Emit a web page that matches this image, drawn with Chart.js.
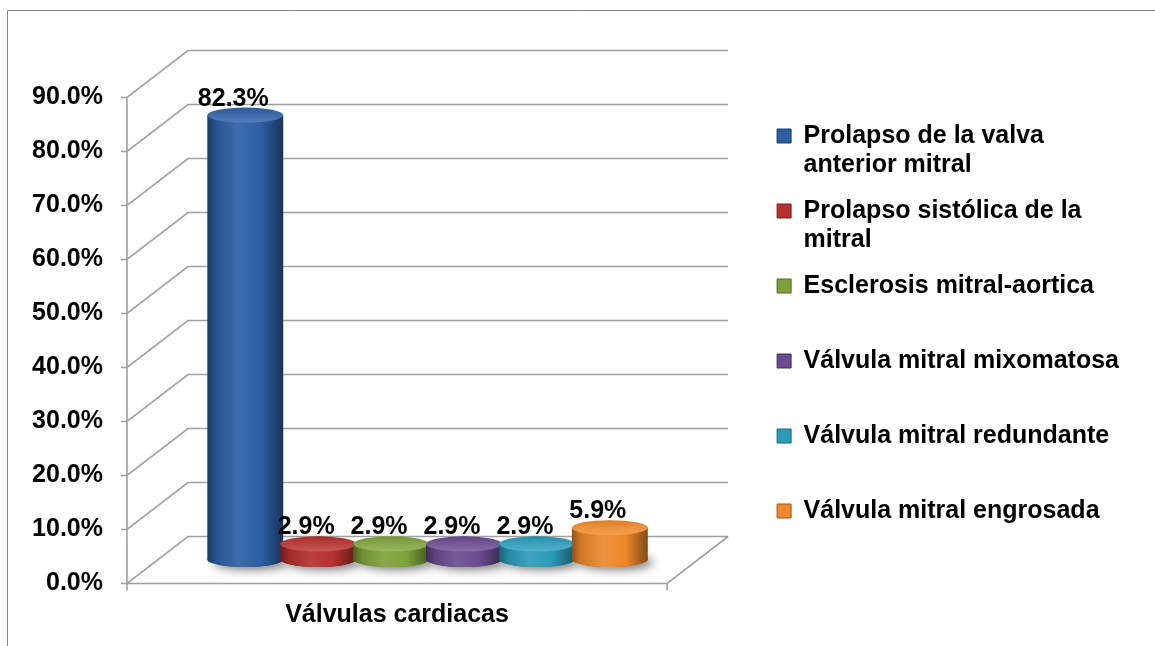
<!DOCTYPE html>
<html>
<head>
<meta charset="utf-8">
<script src="https://cdn.jsdelivr.net/npm/chart.js@4.4.1/dist/chart.umd.min.js"></script>
<style>
  html, body { margin: 0; padding: 0; background: #fff; }
  #wrap { width: 1155px; height: 646px; }
</style>
</head>
<body>
<div id="wrap"><canvas id="grafico" width="1155" height="646"></canvas></div>
<script>
// datos
const categorias = ["Válvulas cardiacas"];
const series = [
  "Prolapso de la valva anterior mitral",
  "Prolapso sistólica de la mitral",
  "Esclerosis mitral-aortica",
  "Válvula mitral mixomatosa",
  "Válvula mitral redundante",
  "Válvula mitral engrosada"
];
const valores = [82.3, 2.9, 2.9, 2.9, 2.9, 5.9];
const yMin = 0;
const yMax = 90;
const yPaso = 10;

const colores = ["#2d5fa5", "#b5312e", "#7ea23a", "#6a4b90", "#2c9bb9", "#ee892c"];

// profundidad del efecto 3D
const PROF_X = 61;
const PROF_Y = -47;
const FUENTE = "Arial, 'Liberation Sans', sans-serif";
const TAM = 25;

Chart.defaults.font.family = FUENTE;

function tono(hex, f) {
  let r = parseInt(hex.substr(1, 2), 16);
  let g = parseInt(hex.substr(3, 2), 16);
  let b = parseInt(hex.substr(5, 2), 16);
  if (f < 0) {
    r = r * (1 + f); g = g * (1 + f); b = b * (1 + f);
  } else {
    r = r + (255 - r) * f; g = g + (255 - g) * f; b = b + (255 - b) * f;
  }
  return "rgb(" + Math.round(r) + "," + Math.round(g) + "," + Math.round(b) + ")";
}

function partirTexto(ctx, texto, maxW) {
  let palabras = texto.split(" ");
  let lineas = [];
  let linea = "";
  palabras.forEach(p => {
    let prueba = linea ? linea + " " + p : p;
    if (linea && ctx.measureText(prueba).width > maxW) {
      lineas.push(linea);
      linea = p;
    } else {
      linea = prueba;
    }
  });
  lineas.push(linea);
  while (lineas.length < 2) lineas.push("");
  return lineas;
}

// paredes, cuadricula y cilindros
const cilindros3d = {
  id: "cilindros3d",
  beforeDraw(chart) {
    let ctx = chart.ctx;
    ctx.save();
    ctx.fillStyle = "#fff";
    ctx.fillRect(0, 0, chart.width, chart.height);
    ctx.strokeStyle = "#868686";
    ctx.lineWidth = 1;
    ctx.beginPath();
    ctx.moveTo(7.5, chart.height);
    ctx.lineTo(7.5, 10.5);
    ctx.lineTo(chart.width, 10.5);
    ctx.stroke();
    ctx.restore();
  },
  beforeDatasetsDraw(chart) {
    let ctx = chart.ctx;
    let area = chart.chartArea;
    let y = chart.scales.y;

    ctx.save();
    ctx.strokeStyle = "#a0a0a0";
    ctx.lineWidth = 1.6;

    // lineas de cuadricula en pared izquierda y fondo
    for (let v = yMin; v <= yMax; v += yPaso) {
      let py = Math.round(y.getPixelForValue(v)) + 0.5;
      ctx.beginPath();
      ctx.moveTo(area.left - 6, py);
      ctx.lineTo(area.left, py);
      ctx.lineTo(area.left + PROF_X, py + PROF_Y);
      ctx.lineTo(area.right + PROF_X, py + PROF_Y);
      ctx.stroke();
    }

    // eje vertical y piso
    let base = Math.round(y.getPixelForValue(yMin)) + 0.5;
    ctx.beginPath();
    ctx.moveTo(area.left, Math.round(y.getPixelForValue(yMax)) + 0.5);
    ctx.lineTo(area.left, base);
    ctx.lineTo(area.right, base);
    ctx.lineTo(area.right + PROF_X, base + PROF_Y);
    ctx.moveTo(area.left, base);
    ctx.lineTo(area.left, base + 7);
    ctx.moveTo(area.right, base);
    ctx.lineTo(area.right, base + 7);
    ctx.stroke();

    // cilindros
    chart.data.datasets.forEach((ds, i) => {
      let meta = chart.getDatasetMeta(i);
      meta.data.forEach(el => {
        let c = ds.backgroundColor;
        let cx = el.x + PROF_X / 2;
        let rx = el.width / 2 + 1.5;
        let ry = 7.5;
        let arriba = el.y + PROF_Y / 2;
        let abajo = el.base + PROF_Y / 2;

        // sombra
        ctx.save();
        ctx.shadowColor = "rgba(0,0,0,0.5)";
        ctx.shadowBlur = 10;
        ctx.shadowOffsetX = 6;
        ctx.shadowOffsetY = 3;
        ctx.fillStyle = tono(c, -0.3);
        ctx.beginPath();
        ctx.ellipse(cx, abajo, rx, ry, 0, 0, Math.PI * 2);
        ctx.fill();
        ctx.restore();

        // cuerpo
        let grad = ctx.createLinearGradient(cx - rx, 0, cx + rx, 0);
        grad.addColorStop(0, tono(c, -0.4));
        grad.addColorStop(0.12, tono(c, -0.12));
        grad.addColorStop(0.4, tono(c, 0.08));
        grad.addColorStop(0.7, c);
        grad.addColorStop(1, tono(c, -0.45));
        ctx.fillStyle = grad;
        ctx.beginPath();
        ctx.moveTo(cx - rx, arriba);
        ctx.lineTo(cx - rx, abajo);
        ctx.ellipse(cx, abajo, rx, ry, 0, Math.PI, 0, true);
        ctx.lineTo(cx + rx, arriba);
        ctx.closePath();
        ctx.fill();

        // tapa
        let gradT = ctx.createLinearGradient(0, arriba - ry, 0, arriba + ry);
        gradT.addColorStop(0, tono(c, -0.08));
        gradT.addColorStop(0.6, tono(c, 0.1));
        gradT.addColorStop(1, tono(c, 0.2));
        ctx.fillStyle = gradT;
        ctx.beginPath();
        ctx.ellipse(cx, arriba, rx, ry, 0, 0, Math.PI * 2);
        ctx.fill();

        // etiqueta
        ctx.fillStyle = "#000";
        ctx.font = "bold " + TAM + "px " + FUENTE;
        ctx.textAlign = "center";
        ctx.textBaseline = "alphabetic";
        ctx.fillText(ds.data[0].toFixed(1) + "%", cx - 12, arriba - ry - 2);
      });
    });

    ctx.restore();
    return false;
  }
};

let datasets = series.map((nombre, i) => ({
  label: nombre,
  data: [valores[i]],
  backgroundColor: colores[i]
}));

let ctx = document.getElementById("grafico").getContext("2d");

let grafico = new Chart(ctx, {
  type: "bar",
  data: {
    labels: categorias,
    datasets: datasets
  },
  options: {
    responsive: false,
    animation: false,
    layout: {
      padding: { top: 97, right: 26, bottom: 0, left: 0 }
    },
    datasets: {
      bar: { categoryPercentage: 0.81, barPercentage: 1.0 }
    },
    scales: {
      x: {
        grid: { display: false, drawTicks: false },
        border: { display: false },
        ticks: {
          color: "#000",
          padding: 17,
          font: { size: TAM, weight: "bold" }
        },
        afterFit(s) { s.height = 63; }
      },
      y: {
        min: yMin,
        max: yMax,
        grid: { display: false, drawTicks: false },
        border: { display: false },
        ticks: {
          stepSize: yPaso,
          color: "#000",
          padding: 24,
          font: { size: TAM, weight: "bold" },
          callback: v => v.toFixed(1) + "%"
        },
        afterFit(s) { s.width = 127; }
      },
      espacio: {
        type: "linear",
        position: "right",
        display: true,
        grid: { display: false, drawTicks: false },
        border: { display: false },
        ticks: { display: false },
        afterFit(s) { s.width = 93; }
      }
    },
    plugins: {
      tooltip: { enabled: false },
      legend: {
        position: "right",
        fullSize: false,
        maxWidth: 371,
        labels: {
          boxWidth: 14,
          boxHeight: 14,
          padding: 17,
          color: "#000",
          font: { size: TAM, weight: "bold", lineHeight: 29 / TAM },
          generateLabels(chart) {
            let c = chart.ctx;
            c.save();
            c.font = "bold " + TAM + "px " + FUENTE;
            let items = chart.data.datasets.map((ds, i) => ({
              text: partirTexto(c, ds.label, TAM * 13),
              fillStyle: ds.backgroundColor,
              strokeStyle: tono(ds.backgroundColor, -0.35),
              lineWidth: 1,
              hidden: false,
              datasetIndex: i
            }));
            c.restore();
            return items;
          }
        }
      }
    }
  },
  plugins: [cilindros3d]
});
</script>
</body>
</html>
